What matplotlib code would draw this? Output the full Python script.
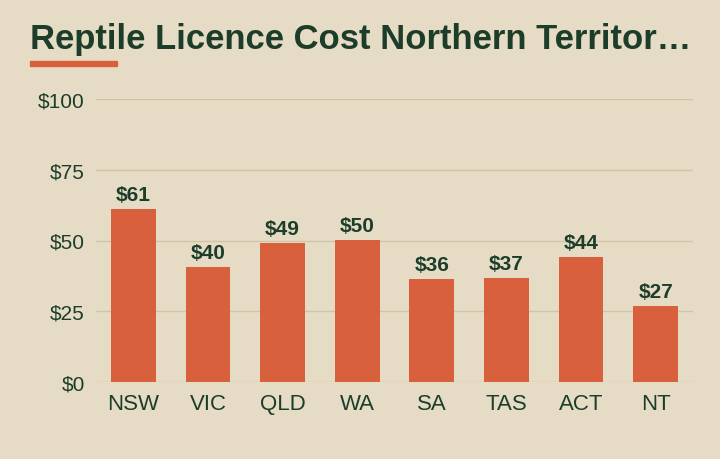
import matplotlib
matplotlib.use('Agg')
import matplotlib.pyplot as plt
from matplotlib.patches import Rectangle

plt.rcParams['font.family'] = ['Liberation Sans', 'DejaVu Sans']

states = ['NSW', 'VIC', 'QLD', 'WA', 'SA', 'TAS', 'ACT', 'NT']
cost = [61.2, 40.5, 49.1, 50.2, 36.4, 36.7, 44.2, 26.8]
yticks = [0, 25, 50, 75, 100]

bg = '#e6dcc5'
ink = '#1d3d2b'
bar_col = '#d9603c'
grid_col = '#d1c5a9'

fig = plt.figure(figsize=(7.2, 4.6), dpi=100, facecolor=bg)
ax = fig.add_axes([96/720, 1 - 382.7/460, 597/720, 282.4/460], facecolor=bg)

x = range(len(states))
ax.bar(x, cost, width=0.6, color=bar_col, zorder=2)
for i, v in enumerate(cost):
    ax.annotate(f'${v:.0f}', (i, v), xytext=(0, 3.5), textcoords='offset points',
                ha='center', va='bottom', fontsize=15, fontweight='bold', color=ink)

ax.set_xlim(-0.5, len(states) - 0.5)
ax.set_ylim(0, 100)
ax.set_yticks(yticks)
ax.set_yticklabels([f'${t}' for t in yticks])
ax.set_xticks(list(x))
ax.set_xticklabels(states)
ax.tick_params(axis='both', length=0, labelsize=15, colors=ink)
ax.tick_params(axis='x', labelsize=16, pad=8)
ax.tick_params(axis='y', pad=8)
ax.grid(axis='y', color=grid_col, linewidth=1, zorder=0)
for s in ax.spines.values():
    s.set_visible(False)

fig.text(30/720, 1 - 49/460, 'Reptile Licence Cost Northern Territor\u2026',
         fontsize=24.9, fontweight='bold', color=ink, ha='left', va='baseline')
fig.patches.append(Rectangle((30/720, 1 - 67/460), 87/720, 5/460,
                             transform=fig.transFigure, color=bar_col, figure=fig))

fig.savefig('out.png', dpi=100, facecolor=bg)
